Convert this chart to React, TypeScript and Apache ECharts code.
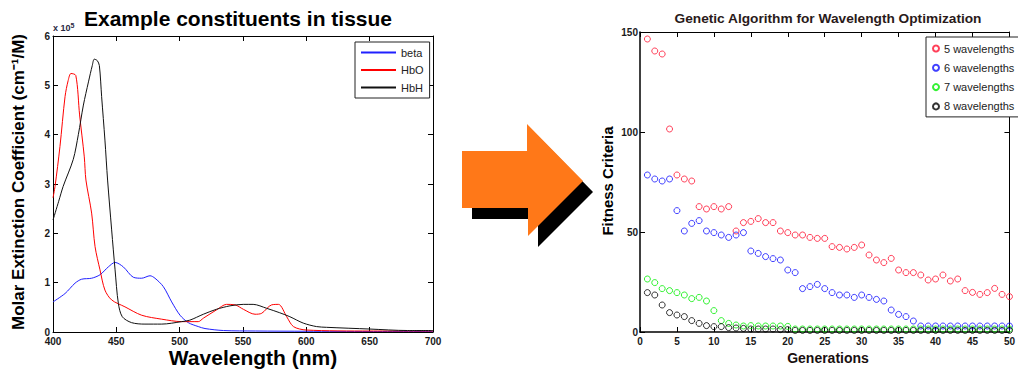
import React, { useEffect, useRef } from 'react';
import * as echarts from 'echarts';

// ---------- Left chart: extinction spectra (values x 10^5 cm^-1/M) ----------
const wavelengthTicks = [400, 450, 500, 550, 600, 650, 700];
const extinctionTicks = [0, 1, 2, 3, 4, 5, 6];

const betaCurve: [number, number][] = [
  [400, 0.61], [409.5, 0.78], [417.4, 0.99], [422.6, 1.07], [430.5, 1.09], [437.1, 1.16],
  [443.7, 1.32], [449, 1.41], [455.5, 1.32], [463.4, 1.11], [470, 1.09], [476.6, 1.14],
  [480.5, 1.09], [487.1, 0.92], [493.7, 0.61], [500.3, 0.34], [506.8, 0.19], [514.7, 0.11],
  [520, 0.07], [534.5, 0.03], [560, 0.02], [600, 0.015], [650, 0.01], [700, 0.01],
];

const hboCurve: [number, number][] = [
  [400, 2.72], [401.6, 2.95], [405.5, 3.76], [409.5, 4.77], [412, 5.1], [414.2, 5.24],
  [418, 5.2], [421, 4.4], [424.7, 3.55], [426, 3.08], [430.5, 2.41], [433.2, 1.73],
  [437.1, 1.26], [441, 0.85], [446.3, 0.65], [456.8, 0.51], [470, 0.34], [485.8, 0.26],
  [501.6, 0.21], [508, 0.21], [514.7, 0.21], [518.7, 0.28], [529.2, 0.45], [537, 0.56],
  [543.7, 0.55], [550.3, 0.46], [559.5, 0.36], [564.8, 0.38], [572.6, 0.55], [578, 0.56],
  [584.5, 0.31], [589.8, 0.11], [600, 0.04], [650, 0.02], [700, 0.02],
];

const hbhCurve: [number, number][] = [
  [400, 2.27], [404.5, 2.65], [408, 2.95], [416, 3.5], [420, 4.0], [424, 4.6], [428, 5.07],
  [431, 5.4], [432.6, 5.53], [435, 5.5], [436.6, 5.4], [438.4, 4.77], [441, 3.89],
  [443.1, 3.08], [446.3, 2.07], [449, 1.26], [451.6, 0.58], [454.7, 0.31], [462, 0.19],
  [472.6, 0.16], [485.8, 0.16], [501.6, 0.21], [508, 0.24], [518.7, 0.36], [529, 0.46],
  [539.7, 0.53], [550.2, 0.56], [558, 0.56], [568.7, 0.48], [579, 0.39], [587, 0.31],
  [597.6, 0.18], [608, 0.11], [616, 0.095], [650, 0.06], [680, 0.03], [700, 0.03],
];

// ---------- Right chart: genetic algorithm fitness ----------
const generationTicks = [0, 5, 10, 15, 20, 25, 30, 35, 40, 45, 50];
const fitnessTicks = [0, 50, 100, 150];
const generations = [
  1, 2, 3, 4, 5, 6, 7, 8, 9, 10, 11, 12, 13, 14, 15, 16, 17, 18, 19, 20, 21, 22, 23, 24, 25,
  26, 27, 28, 29, 30, 31, 32, 33, 34, 35, 36, 37, 38, 39, 40, 41, 42, 43, 44, 45, 46, 47, 48, 49, 50,
];
const fitness5 = [
  146.5, 140.5, 139, 101.5, 78.5, 76.5, 75.5, 62.7, 61.5, 62.7, 61.5, 62.7, 50.5, 54.7, 55.3,
  56.7, 54.7, 54.7, 50.5, 49.7, 48.5, 48.5, 47.3, 46.8, 46.8, 42.7, 42.3, 41.5, 42.3, 43.5,
  38.5, 36, 34.7, 36.8, 31, 29.7, 29.7, 28.5, 26, 26.5, 28.5, 25.5, 26.5, 20.7, 19.8, 18.8,
  19.7, 21.8, 18.8, 17.7,
];
const fitness6 = [
  78.5, 76.5, 75.5, 76.5, 60.7, 50.5, 54.3, 55.7, 50.5, 49.7, 48.5, 47.3, 48.5, 49.7, 40.5,
  39.3, 37.7, 36.7, 36, 31, 29.7, 21.7, 22.7, 23.8, 21.7, 19.7, 18.5, 18.5, 17.3, 18.5, 17.3,
  16.3, 15.5, 11, 8.8, 7.7, 5.5, 3, 3, 3, 3, 3, 3, 3, 3, 3, 3, 3, 3, 3,
];
const fitness7 = [
  26.5, 24.7, 21.7, 20.7, 19.7, 18.5, 16.7, 17.3, 15.5, 10.7, 5.7, 4.3, 3.5, 3, 3.2, 3, 3, 3,
  3, 2.8, 1.5, 1.5, 1.5, 1.5, 1.5, 1.5, 1.5, 1.5, 1.5, 1.5, 1.5, 1.5, 1.5, 1.5, 1.5, 1.5, 1.5,
  1.5, 1.5, 1.5, 1.5, 1.5, 1.5, 1.5, 1.5, 1.5, 1.5, 1.5, 1.5, 1.5,
];
const fitness8 = [
  19.7, 18.5, 13.5, 9.7, 8.5, 7.7, 5.7, 4.3, 3.2, 2.7, 2.7, 2.2, 2, 1.8, 1.5, 1.5, 1.5, 1.5,
  1.2, 1.2, 0.8, 0.8, 0.8, 0.8, 0.8, 0.8, 0.8, 0.8, 0.8, 0.8, 0.8, 0.8, 0.8, 0.8, 0.8, 0.8,
  0.8, 0.8, 0.8, 0.8, 0.8, 0.8, 0.8, 0.8, 0.8, 0.8, 0.8, 0.8, 0.8, 0.8,
];
const fitnessNames = ['5 wavelengths', '6 wavelengths', '7 wavelengths', '8 wavelengths'];
const fitnessColors = ['#ff1030', '#1010ff', '#00ee00', '#000000'];

const FONT = 'Liberation Sans, Arial, sans-serif';

function boxAxes(grid: number, min: number, max: number, interval: number, kind: 'x' | 'y', lw: number, labelMargin: number) {
  const common = {
    type: 'value' as const,
    gridIndex: grid,
    min,
    max,
    interval,
    splitLine: { show: false },
    axisLine: { show: true, onZero: false, lineStyle: { color: '#000', width: lw } },
    axisTick: { show: true, inside: true, length: 5, lineStyle: { color: '#000', width: 1 } },
  };
  return [
    {
      ...common,
      position: kind === 'x' ? 'bottom' : 'left',
      axisLabel: {
        show: true,
        fontSize: 10,
        fontWeight: 'bold',
        color: '#1a1a1a',
        fontFamily: FONT,
        margin: labelMargin,
      },
    },
    {
      ...common,
      position: kind === 'x' ? 'top' : 'right',
      axisLine: { show: true, onZero: false, lineStyle: { color: '#000', width: 1 } },
      axisLabel: { show: false },
    },
  ];
}

export default function App() {
  const ref = useRef<HTMLDivElement>(null);

  useEffect(() => {
    if (!ref.current) return;
    const chart = echarts.init(ref.current, undefined, { renderer: 'svg' });

    const wlMin = wavelengthTicks[0];
    const wlMax = wavelengthTicks[wavelengthTicks.length - 1];
    const wlStep = wavelengthTicks[1] - wavelengthTicks[0];
    const exMax = extinctionTicks[extinctionTicks.length - 1];
    const genMax = generationTicks[generationTicks.length - 1];
    const fitMax = fitnessTicks[fitnessTicks.length - 1];

    const fitSeries = [fitness5, fitness6, fitness7, fitness8].map((vals, i) => ({
      type: 'scatter' as const,
      name: fitnessNames[i],
      xAxisIndex: 2,
      yAxisIndex: 2,
      symbol: 'circle',
      symbolSize: 6,
      itemStyle: { color: 'rgba(255,255,255,0)', borderColor: fitnessColors[i], borderWidth: 1 },
      data: generations.map((g, j) => [g, vals[j]]),
    }));

    const option: any = {
      animation: false,
      backgroundColor: '#ffffff',
      textStyle: { fontFamily: FONT },
      grid: [
        { left: 53, top: 36, width: 380, height: 296 },
        { left: 640, top: 32, width: 379, height: 300 },
      ],
      xAxis: [
        ...boxAxes(0, wlMin, wlMax, wlStep, 'x', 1, 4),
        ...boxAxes(1, generationTicks[0], genMax, generationTicks[1] - generationTicks[0], 'x', 1.5, 4),
      ],
      yAxis: [
        ...boxAxes(0, extinctionTicks[0], exMax, extinctionTicks[1] - extinctionTicks[0], 'y', 1, 3),
        ...boxAxes(1, fitnessTicks[0], fitMax, fitnessTicks[1] - fitnessTicks[0], 'y', 1.5, 2),
      ],
      legend: [
        {
          data: ['beta', 'HbO', 'HbH'],
          orient: 'vertical',
          left: 355,
          top: 42,
          padding: [5, 6, 5, 5],
          itemGap: 6.5,
          itemWidth: 35,
          itemHeight: 10,
          itemStyle: { opacity: 0 },
          borderColor: '#222',
          borderWidth: 1,
          backgroundColor: '#fff',
          selectedMode: false,
          textStyle: { fontSize: 11, color: '#222', fontFamily: FONT },
        },
        {
          data: fitnessNames,
          orient: 'vertical',
          left: 926,
          top: 37,
          padding: [6, 14, 5, 6],
          itemGap: 8.3,
          itemWidth: 6,
          itemHeight: 6,
          borderColor: '#222',
          borderWidth: 1,
          backgroundColor: '#fff',
          selectedMode: false,
          textStyle: { fontSize: 11, color: '#222', fontFamily: FONT },
        },
      ],
      series: [
        {
          type: 'line', name: 'beta', xAxisIndex: 0, yAxisIndex: 0, symbol: 'none', smooth: 0.3,
          lineStyle: { color: '#2020ff', width: 1 }, itemStyle: { color: '#2020ff' }, data: betaCurve,
        },
        {
          type: 'line', name: 'HbO', xAxisIndex: 0, yAxisIndex: 0, symbol: 'none', smooth: 0.3,
          lineStyle: { color: '#ff0000', width: 1 }, itemStyle: { color: '#ff0000' }, data: hboCurve,
        },
        {
          type: 'line', name: 'HbH', xAxisIndex: 0, yAxisIndex: 0, symbol: 'none', smooth: 0.3,
          lineStyle: { color: '#111111', width: 1 }, itemStyle: { color: '#111111' }, data: hbhCurve,
        },
        ...fitSeries,
      ],
      graphic: [
        // arrow shadow
        {
          type: 'polygon',
          shape: { points: [[472, 162], [537, 162], [537, 135], [593, 192], [538, 247], [538, 219], [472, 219]] },
          style: { fill: '#000' },
        },
        // orange arrow
        {
          type: 'polygon',
          shape: { points: [[462, 151], [527, 151], [527, 124], [583, 181], [528, 236], [528, 208], [462, 208]] },
          style: { fill: '#ff7818' },
        },
        {
          type: 'text', x: 238, y: 18,
          style: { text: 'Example constituents in tissue', fontSize: 21, fontWeight: 'bold', fontFamily: FONT, fill: '#000', align: 'center', verticalAlign: 'middle' },
        },
        {
          type: 'text', x: 53, y: 28,
          style: {
            text: '{a|x 10}{b|5}',
            fontFamily: FONT,
            fill: '#2a2a44',
            align: 'left',
            verticalAlign: 'middle',
            rich: {
              a: { fontSize: 9, fontWeight: 'bold', fontFamily: FONT, fill: '#2a2a44' },
              b: { fontSize: 7, fontWeight: 'bold', fontFamily: FONT, fill: '#2a2a44', verticalAlign: 'top', padding: [0, 0, 5, 0] },
            },
          },
        },
        {
          type: 'text', x: 18.5, y: 182, rotation: Math.PI / 2,
          style: { text: 'Molar Extinction Coefficient (cm⁻¹/M)', fontSize: 17, fontWeight: 'bold', fontFamily: FONT, fill: '#000', align: 'center', verticalAlign: 'middle' },
        },
        {
          type: 'text', x: 253, y: 357,
          style: { text: 'Wavelength (nm)', fontSize: 21, fontWeight: 'bold', fontFamily: FONT, fill: '#000', align: 'center', verticalAlign: 'middle' },
        },
        {
          type: 'text', x: 828, y: 18,
          style: { text: 'Genetic Algorithm for Wavelength Optimization', fontSize: 13.7, fontWeight: 'bold', fontFamily: FONT, fill: '#2a1a1a', align: 'center', verticalAlign: 'middle' },
        },
        {
          type: 'text', x: 607, y: 181, rotation: Math.PI / 2,
          style: { text: 'Fitness Criteria', fontSize: 15, fontWeight: 'bold', fontFamily: FONT, fill: '#000', align: 'center', verticalAlign: 'middle' },
        },
        {
          type: 'text', x: 828, y: 358,
          style: { text: 'Generations', fontSize: 14, fontWeight: 'bold', fontFamily: FONT, fill: '#1a1010', align: 'center', verticalAlign: 'middle' },
        },
      ],
    };

    chart.setOption(option);
    return () => chart.dispose();
  }, []);

  return (
    <div
      ref={ref}
      style={{ position: 'absolute', left: 0, top: 0, width: 1018, height: 375, background: '#fff' }}
    />
  );
}
